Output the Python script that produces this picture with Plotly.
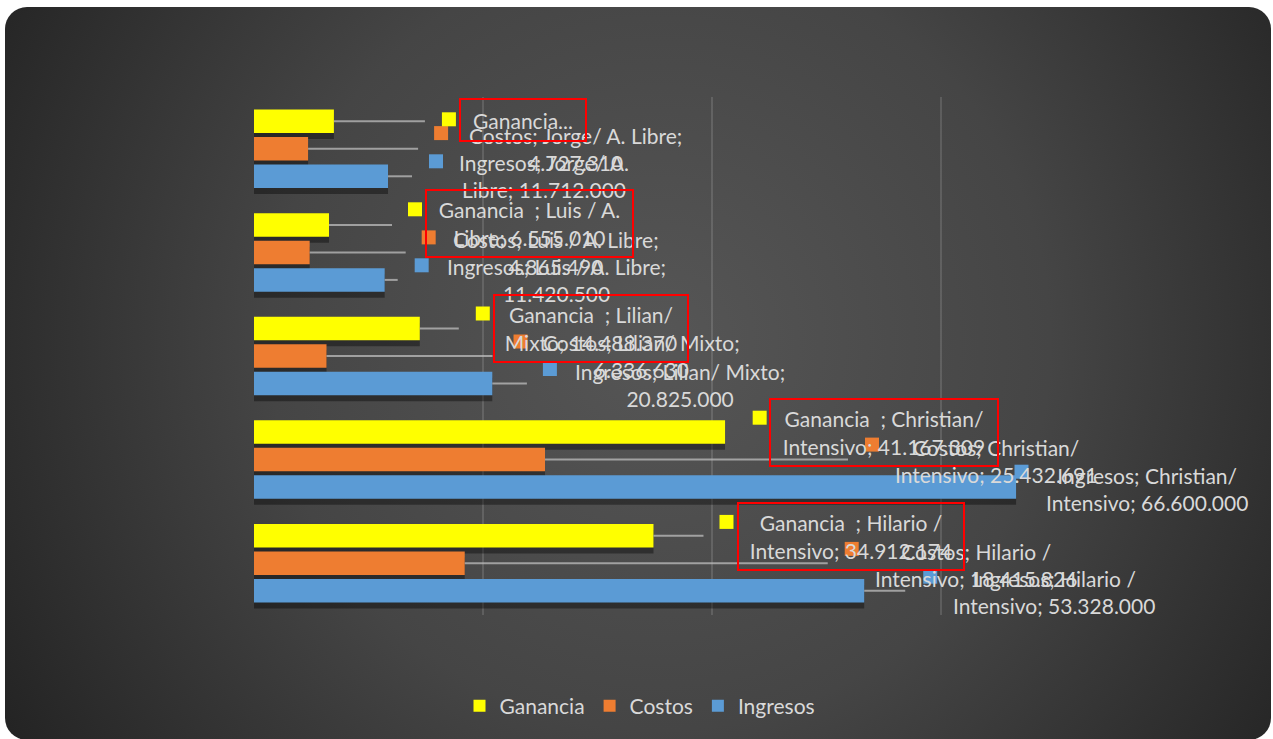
import base64
import textwrap
import plotly.graph_objects as go

# ---------------- data ----------------
categories = ["Hilario / Intensivo", "Christian/ Intensivo", "Lilian/ Mixto",
              "Luis / A. Libre", "Jorge/ A. Libre"]
ingresos = [53328000, 66600000, 20825000, 11420500, 11712000]
costos = [18415826, 25432691, 6336630, 4865490, 4727310]
ganancia = [34912174, 41167309, 14488370, 6555010, 6984690]
series_names = ["Ingresos", "Costos", "Ganancia"]
label_names = ["Ingresos", "Costos", "Ganancia\u00a0 "]
x_ticks = [0, 20000000, 40000000, 60000000, 80000000]
x_range = [0, 80050000]

values = {"Ingresos": ingresos, "Costos": costos, "Ganancia": ganancia}

# ---------------- style / layout ----------------
W, H = 1273, 739
L, R, T, B = 254, 103, 97, 124
PW, PH = W - L - R, H - T - B
CAT_PX = PH / len(categories)

colors = {"Ingresos": "#5b9bd5", "Costos": "#ee7d31", "Ganancia": "#ffff00"}
bar_off_px = {"Ingresos": -27.5, "Costos": 0.0, "Ganancia": 27.5}
BAR_PX = 23.5
TEXT_COLOR = "#d9d9d9"
FONT = "Lato"
FS = 21

# label placement (pixel offsets from bar end / bar centre), keyed by (series, category)
# (label dx, label dy, square dx, square dy, leader length, wrap width, box size)
place = {
    ("Ganancia", "Jorge/ A. Libre"): (189, 1, 115, 2, 91, 22, (124, 40)),
    ("Costos", "Jorge/ A. Libre"): (267, 0, 133, 15.7, 110, 26, None),
    ("Ingresos", "Jorge/ A. Libre"): (156, 0.7, 48, 15, 24, 22, None),
    ("Ganancia", "Luis / A. Libre"): (200.5, 1.3, 86, 15.6, 63, 22, (205, 65)),
    ("Costos", "Luis / A. Libre"): (246, -1, 119, 15, 96, 26, None),
    ("Ingresos", "Luis / A. Libre"): (172, 0, 37, 14.6, 13, 28, None),
    ("Ganancia", "Lilian/ Mixto"): (171, 0, 63, 15, 39, 22, (192, 65)),
    ("Costos", "Lilian/ Mixto"): (315, 0.5, 194, 14.5, 166, 26, None),
    ("Ingresos", "Lilian/ Mixto"): (188, -1, 57.6, 14.5, 34.6, 26, None),
    ("Ganancia", "Christian/ Intensivo"): (158.6, 0, 34.6, 14.4, 0, 26, (226, 65)),
    ("Costos", "Christian/ Intensivo"): (451, -1, 327, 15, 303, 22, None),
    ("Ingresos", "Christian/ Intensivo"): (131, -1.6, 5.4, 15.4, 0, 22, None),
    ("Ganancia", "Hilario / Intensivo"): (198, -0.7, 73, 13.8, 50, 22, (224, 65)),
    ("Costos", "Hilario / Intensivo"): (511, -2, 387, 14.3, 363, 22, None),
    ("Ingresos", "Hilario / Intensivo"): (190, -1.2, 66, 14, 41, 22, None),
}
truncated = {("Ganancia", "Jorge/ A. Libre")}


def fmt(v):
    return f"{v:,}".replace(",", ".")


# ---------------- background (rounded dark gradient panel) ----------------
svg = f'''<svg xmlns="http://www.w3.org/2000/svg" width="{W}" height="{H}" viewBox="0 0 {W} {H}">
<defs><radialGradient id="g" gradientUnits="userSpaceOnUse" cx="660" cy="340" r="780">
<stop offset="0" stop-color="#565656"/><stop offset="0.5" stop-color="#454545"/>
<stop offset="1" stop-color="#222222"/></radialGradient></defs>
<rect x="0" y="0" width="{W}" height="{H}" fill="#ffffff"/>
<rect x="5" y="7" width="1266" height="733" rx="22" ry="22" fill="url(#g)"/>
</svg>'''
bg_src = "data:image/svg+xml;base64," + base64.b64encode(svg.encode()).decode()

fig = go.Figure()

width_u = BAR_PX / CAT_PX
# shadows
for s in series_names:
    off = (bar_off_px[s] - 6) / CAT_PX - width_u / 2
    fig.add_trace(go.Bar(
        y=categories, x=values[s], orientation="h", width=width_u, offset=off,
        marker=dict(color="rgba(0,0,0,0.38)", line=dict(width=0)),
        showlegend=False, hoverinfo="skip"))
# bars
for s in series_names:
    off = bar_off_px[s] / CAT_PX - width_u / 2
    fig.add_trace(go.Bar(
        y=categories, x=values[s], orientation="h", width=width_u, offset=off,
        name=s, marker=dict(color=colors[s], line=dict(width=0))))

shapes = []
annotations = []
for s, lname in zip(series_names, label_names):
    for cat, v in zip(categories, values[s]):
        dx, dy, sqx, sqy, lead, wrap, box = place[(s, cat)]
        boff = bar_off_px[s]
        if lead > 0:
            shapes.append(dict(
                type="line", xref="x", yref="y", xsizemode="pixel", ysizemode="pixel",
                xanchor=v, yanchor=cat, x0=0, x1=lead, y0=boff, y1=boff,
                line=dict(color="rgba(190,190,190,0.75)", width=2), layer="above"))
        shapes.append(dict(
            type="rect", xref="x", yref="y", xsizemode="pixel", ysizemode="pixel",
            xanchor=v, yanchor=cat, x0=sqx - 7, x1=sqx + 7,
            y0=boff + sqy - 7, y1=boff + sqy + 7,
            fillcolor=colors[s], line=dict(width=0), layer="above"))
        if (s, cat) in truncated:
            text = lname.rstrip().rstrip("\u00a0") + "..."
        else:
            full = f"{lname}; {cat}; {fmt(v)}"
            text = "<br>".join(textwrap.wrap(full, width=wrap, break_long_words=False,
                                             break_on_hyphens=False))
        ann = dict(x=v, y=cat, xref="x", yref="y", xshift=dx, yshift=boff + dy,
                   text=text, showarrow=False, xanchor="center", yanchor="middle",
                   align="center", font=dict(family=FONT, size=FS, color=TEXT_COLOR))
        if box is not None:
            ann.update(width=box[0], height=box[1], bordercolor="#ff0000",
                       borderwidth=2, borderpad=0)
        annotations.append(ann)

fig.update_layout(
    width=W, height=H, autosize=False,
    margin=dict(l=L, r=R, t=T, b=B, pad=0),
    paper_bgcolor="#ffffff", plot_bgcolor="rgba(0,0,0,0)",
    barmode="overlay",
    font=dict(family=FONT, size=FS, color=TEXT_COLOR),
    images=[dict(source=bg_src, xref="paper", yref="paper",
                 x=-L / PW, y=1 + T / PH, sizex=W / PW, sizey=H / PH,
                 xanchor="left", yanchor="top", sizing="stretch", layer="below")],
    xaxis=dict(range=x_range, tickvals=x_ticks, showticklabels=False, ticks="",
               showgrid=True, gridcolor="rgba(255,255,255,0.13)", gridwidth=2,
               zeroline=False, showline=False, fixedrange=True),
    yaxis=dict(type="category", categoryorder="array", categoryarray=categories,
               range=[-0.5, len(categories) - 0.5], showticklabels=False, ticks="",
               showgrid=False, zeroline=False, showline=False, fixedrange=True),
    legend=dict(orientation="h", traceorder="reversed", x=(640 - L) / PW,
                xanchor="center", y=-(706 - (T + PH)) / PH, yanchor="middle",
                font=dict(family=FONT, size=21, color=TEXT_COLOR),
                bgcolor="rgba(0,0,0,0)", itemclick=False, itemwidth=30),
    shapes=shapes, annotations=annotations,
    showlegend=True,
)

fig.write_html("out.html")
